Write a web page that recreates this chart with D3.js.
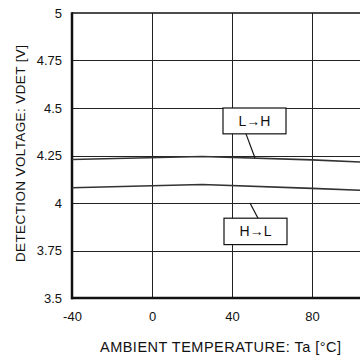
<!DOCTYPE html>
<html>
<head>
<meta charset="utf-8">
<script src="https://cdn.jsdelivr.net/npm/d3@7"></script>
<style>
  html, body { margin: 0; padding: 0; background: #fff; }
  svg { display: block; font-family: "Liberation Sans", Arial, sans-serif; }
</style>
</head>
<body>
<svg id="chart" width="360" height="358"></svg>
<script>
// Ambient temperature (°C) and detection voltage (V) for both transitions
const temps = [-40, 25, 80, 120];
const lowToHigh = [4.229, 4.245, 4.227, 4.208];
const highToLow = [4.080, 4.097, 4.077, 4.060];

const xGrid = [0, 40, 80, 120];
const xTickLabels = [-40, 0, 40, 80];
const yTicks = [3.5, 3.75, 4, 4.25, 4.5, 4.75, 5];

const svg = d3.select("#chart");
const x = d3.scaleLinear().domain([-40, 120]).range([72, 392]);
const y = d3.scaleLinear().domain([3.5, 5]).range([298, 13]);

// grid
const grid = svg.append("g").attr("stroke", "#222").attr("stroke-width", 1);
grid.selectAll("line.v").data(xGrid).join("line")
  .attr("x1", d => Math.round(x(d)) + 0.5).attr("x2", d => Math.round(x(d)) + 0.5)
  .attr("y1", y(5)).attr("y2", y(3.5));
grid.selectAll("line.h").data(yTicks.slice(1, -1)).join("line")
  .attr("x1", x(-40)).attr("x2", x(120))
  .attr("y1", d => Math.round(y(d)) + 0.5).attr("y2", d => Math.round(y(d)) + 0.5);

// frame: top border plus heavy left and bottom axes
svg.append("line").attr("x1", x(-40)).attr("x2", x(120))
  .attr("y1", y(5)).attr("y2", y(5)).attr("stroke", "#111").attr("stroke-width", 1.5);
svg.append("line").attr("x1", x(-40)).attr("x2", x(-40))
  .attr("y1", y(5) - 0.75).attr("y2", y(3.5) + 1.25).attr("stroke", "#111").attr("stroke-width", 2.5);
svg.append("line").attr("x1", x(-40) - 1).attr("x2", x(120))
  .attr("y1", y(3.5)).attr("y2", y(3.5)).attr("stroke", "#111").attr("stroke-width", 2.5);

// axes (labels only)
const xAxis = d3.axisBottom(x).tickValues(xTickLabels).tickSize(0).tickPadding(0).tickFormat(d => String(d));
const gx = svg.append("g").attr("transform", `translate(0,${y(3.5) + 14})`).call(xAxis);
gx.select(".domain").remove();
gx.selectAll("text").attr("font-size", 13).attr("fill", "#111")
  .attr("font-family", "Liberation Sans, Arial, sans-serif");

const yAxis = d3.axisLeft(y).tickValues(yTicks).tickSize(0).tickPadding(0).tickFormat(d => String(d));
const gy = svg.append("g").attr("transform", `translate(${x(-40) - 10},0)`).call(yAxis);
gy.select(".domain").remove();
gy.selectAll("text").attr("font-size", 13).attr("fill", "#111")
  .attr("font-family", "Liberation Sans, Arial, sans-serif");

// curves
const line = d3.line().x(d => x(d[0])).y(d => y(d[1]));
[lowToHigh, highToLow].forEach(vals => {
  svg.append("path")
    .datum(temps.map((t, i) => [t, vals[i]]))
    .attr("d", line).attr("fill", "none")
    .attr("stroke", "#333").attr("stroke-width", 1.6);
});

// callout boxes
function callout(label, bx0, bx1, by0, by1, lx0, ly0, lx1, ly1) {
  svg.append("line").attr("x1", x(lx0)).attr("y1", y(ly0)).attr("x2", x(lx1)).attr("y2", y(ly1))
    .attr("stroke", "#111").attr("stroke-width", 1.2);
  svg.append("rect")
    .attr("x", x(bx0)).attr("y", y(by1))
    .attr("width", x(bx1) - x(bx0)).attr("height", y(by0) - y(by1))
    .attr("fill", "#fff").attr("stroke", "#111").attr("stroke-width", 1.2);
  svg.append("text").attr("x", (x(bx0) + x(bx1)) / 2).attr("y", (y(by0) + y(by1)) / 2 + 5)
    .attr("text-anchor", "middle").attr("font-size", 14).attr("fill", "#111").text(label);
}
callout("L→H", 35.5, 67, 4.364, 4.5, 47, 4.364, 51.5, 4.237);
callout("H→L", 36, 67.5, 3.781, 3.92, 53, 3.92, 49, 4.0);

// axis titles
svg.append("text").attr("x", 100).attr("y", 352)
  .attr("font-size", 14.5).attr("fill", "#111")
  .attr("textLength", 241).attr("lengthAdjust", "spacing")
  .text("AMBIENT TEMPERATURE: Ta [°C]");
svg.append("text").attr("transform", `translate(25,${262}) rotate(-90)`)
  .attr("font-size", 13.5).attr("fill", "#111")
  .attr("textLength", 217).attr("lengthAdjust", "spacing")
  .text("DETECTION VOLTAGE: VDET [V]");
</script>
</body>
</html>
